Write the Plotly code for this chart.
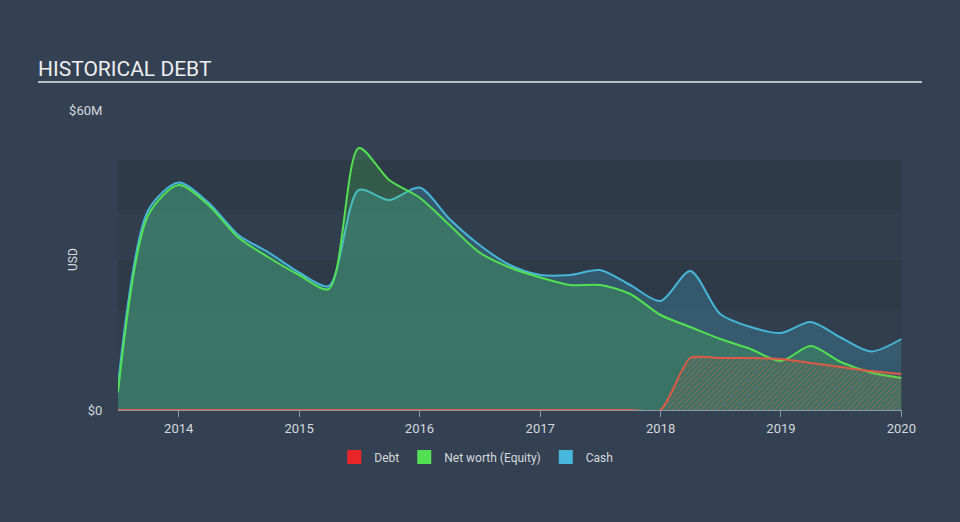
import plotly.graph_objects as go

dates = ["2013-07-01", "2013-10-01", "2014-01-01", "2014-04-01", "2014-07-01", "2014-10-01",
         "2015-01-01", "2015-04-01", "2015-07-01", "2015-10-01", "2016-01-01", "2016-04-01",
         "2016-07-01", "2016-10-01", "2017-01-01", "2017-04-01", "2017-07-01", "2017-10-01",
         "2018-01-01", "2018-04-01", "2018-07-01", "2018-10-01", "2019-01-01", "2019-04-01",
         "2019-07-01", "2019-10-01", "2020-01-01"]

cash = [5.0, 40.0, 45.5, 41.5, 35.0, 31.5, 27.5, 24.8, 44.0, 42.0, 44.5, 38.2,
        33.0, 29.0, 27.0, 27.0, 28.0, 25.0, 21.8, 27.8, 19.2, 16.6, 15.4, 17.6,
        14.5, 11.7, 14.2]

equity = [3.5, 39.0, 45.0, 41.0, 34.5, 30.5, 27.0, 24.2, 52.4, 46.0, 42.5, 37.0,
          31.5, 28.5, 26.5, 25.0, 25.0, 23.2, 19.0, 16.6, 14.2, 12.2, 9.8, 12.8,
          9.6, 7.5, 6.4]

debt = [0, 0, 0, 0, 0, 0, 0, 0, 0, 0, 0, 0,
        0, 0, 0, 0, 0, 0, 0, 10.4, 10.4, 10.4, 10.2, 9.4,
        8.6, 7.8, 7.2]

y_tick_vals = [0, 60]
y_tick_text = ["$0", "$60M"]
legend_names = ["Debt", "Net worth (Equity)", "Cash"]
legend_colors = ["#e8262a", "#52e052", "#47b8dc"]

BG = "#344152"
fig = go.Figure()

fig.add_trace(go.Scatter(x=dates, y=cash, mode="lines", line=dict(color="#47b5d8", width=2, shape="spline", smoothing=0.8),
                         fill="tozeroy", fillcolor="rgba(71,181,216,0.25)", showlegend=False, hoverinfo="skip"))
fig.add_trace(go.Scatter(x=dates, y=equity, mode="lines", line=dict(color="#52e052", width=2, shape="spline", smoothing=0.8),
                         fill="tozeroy", fillcolor="rgba(80,224,80,0.2)", showlegend=False, hoverinfo="skip"))
fig.add_trace(go.Scatter(x=dates, y=debt, mode="lines", line=dict(color="#dc5a46", width=2, shape="spline", smoothing=0.6),
                         fill="tozeroy", fillcolor="rgba(0,0,0,0)",
                         fillpattern=dict(shape="/", fgcolor="rgba(225,90,70,0.8)", bgcolor="rgba(0,0,0,0)", size=4, solidity=0.35),
                         showlegend=False, hoverinfo="skip"))

for name, col in zip(legend_names, legend_colors):
    fig.add_trace(go.Scatter(x=[None], y=[None], mode="markers", name=name,
                             marker=dict(symbol="square", size=14, color=col)))

# bands
band_colors = ["#2e3a48", "#313e4d", "#2e3a48", "#313e4d", "#2e3a48"]
for i, c in enumerate(band_colors):
    fig.add_shape(type="rect", xref="paper", yref="y", x0=0, x1=1, y0=i * 10, y1=(i + 1) * 10,
                  fillcolor=c, line=dict(width=0), layer="below")

# title underline
fig.add_shape(type="line", xref="paper", yref="paper", x0=(38 - 118) / 784, x1=(922 - 118) / 784,
              y0=(410 - 82) / 300, y1=(410 - 82) / 300, line=dict(color="#b9bec5", width=2))

fig.add_annotation(text="USD", xref="paper", yref="paper", x=(73 - 118) / 784, y=0.5,
                   xanchor="center", yanchor="middle", textangle=-90, showarrow=False,
                   font=dict(size=12, color="#d5d9de"))

fig.update_layout(
    width=960, height=522,
    paper_bgcolor=BG, plot_bgcolor="rgba(0,0,0,0)",
    margin=dict(l=118, r=58, t=110, b=112),
    font=dict(family="Roboto", color="#d5d9de", size=13),
    title=dict(text="HISTORICAL DEBT", x=38 / 960, xanchor="left", y=(522 - 69) / 522, yanchor="middle",
               font=dict(size=21, color="#eceef0", family="Roboto")),
    legend=dict(orientation="h", x=0.457, xanchor="center", y=-0.157, yanchor="middle",
                font=dict(size=12, color="#d5d9de"), bgcolor="rgba(0,0,0,0)", itemwidth=30),
    xaxis=dict(type="date", range=["2013-07-01", "2020-01-03"], dtick="M12", tick0="2014-01-01",
               tickformat="%Y", showgrid=False, zeroline=False, showline=True, linecolor="#8d99a6",
               ticks="outside", ticklen=6, tickcolor="#8d99a6", tickfont=dict(size=13, color="#d5d9de")),
    yaxis=dict(range=[0, 60], tickvals=y_tick_vals, ticktext=y_tick_text, showgrid=False, zeroline=False,
               showline=False, ticks="outside", ticklen=12, tickcolor="rgba(0,0,0,0)",
               tickfont=dict(size=13, color="#d5d9de")),
)

fig.write_html("out.html")
